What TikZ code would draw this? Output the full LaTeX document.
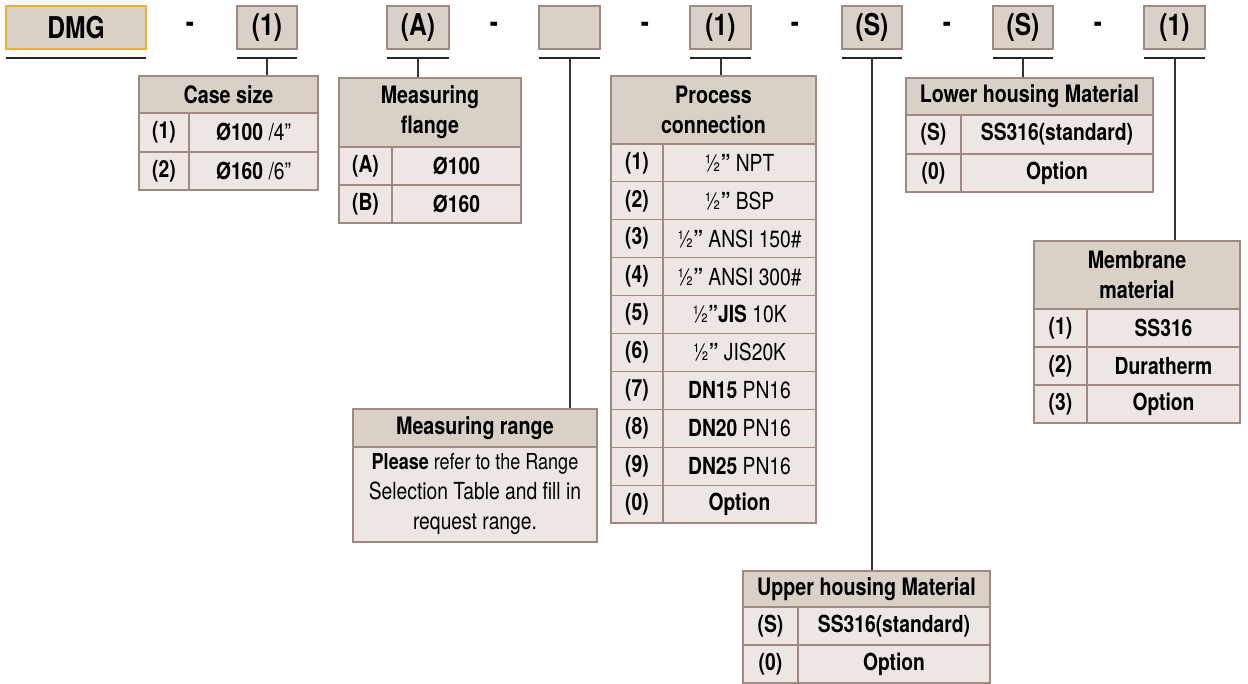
\documentclass[tikz,border=0pt]{standalone}
\usepackage{fontspec}
\setmainfont{TeX Gyre Heros}[FakeStretch=0.82]
\definecolor{topfill}{HTML}{D9D0C8}
\definecolor{topedge}{HTML}{9E8A82}
\definecolor{gold}{HTML}{E9B13A}
\definecolor{hfill}{HTML}{D9D0C8}
\definecolor{rfill}{HTML}{EDE6E3}
\definecolor{tedge}{HTML}{9E8A82}
\newcommand\cellnode[7]{\node[#1,minimum width={(#5-#3)*1pt},minimum height={(#6-#4)*1pt}] (#2) at ({(#3+#5)/2},{(#4+#6)/2}) {#7};}
\begin{document}
\begin{tikzpicture}[x=1pt,y=-1pt,
  topbox/.style={draw=topedge,fill=topfill,line width=1.2pt,inner sep=0pt,font=\fontsize{30}{30}\selectfont\bfseries},
  dmgbox/.style={topbox,draw=gold},
  sepmark/.style={inner sep=0pt,font=\fontsize{30}{30}\selectfont\bfseries},
  hd/.style={draw=tedge,fill=hfill,line width=1.2pt,inner sep=0pt,align=center,font=\fontsize{24}{30}\selectfont\bfseries},
  rw/.style={draw=tedge,fill=rfill,line width=1.2pt,inner sep=0pt,align=center,font=\fontsize{23.5}{30}\selectfont},
  lab/.style={rw,font=\fontsize{23.5}{30}\selectfont\bfseries},
  ul/.style={line width=1.4pt,draw=black!85},
  conn/.style={line width=1.3pt,draw=black!80}]
\useasboundingbox (0,0) rectangle (1248,684);

% top row
\cellnode{dmgbox}{b0}{6}{6}{146}{49}{DMG}
\cellnode{topbox}{b1}{237}{6}{297}{49}{(1)}
\cellnode{topbox}{b2}{387}{6}{449}{49}{(A)}
\cellnode{topbox}{b3}{539}{6}{600}{49}{}
\cellnode{topbox}{b4}{690}{6}{751}{49}{(1)}
\cellnode{topbox}{b5}{842}{6}{902}{49}{(S)}
\cellnode{topbox}{b6}{993}{6}{1053}{49}{(S)}
\cellnode{topbox}{b7}{1144}{6}{1205}{49}{(1)}
\foreach \x/\n in {190/d1,494/d2,645/d3,795/d4,947/d5,1098/d6}
  \node[sepmark] (\n) at (\x,27.5) {-};
\foreach \a/\b in {6/146,237/297,387/449,539/600,690/751,842/902,993/1053,1144/1205}
  \draw[ul] (\a,58) -- (\b,58);
\foreach \x/\n in {267/u1,418/u2,570/u3,721/u4,872/u5,1023/u6,1175/u7}
  \coordinate (\n) at (\x,58);

% Case size
\cellnode{hd}{cs}{139}{76}{318}{113}{Case size}
\cellnode{lab}{cs1a}{139}{113}{189}{152}{(1)}
\cellnode{rw}{cs1b}{189}{113}{318}{152}{\textbf{Ø100} /4”}
\cellnode{lab}{cs2a}{139}{152}{189}{190}{(2)}
\cellnode{rw}{cs2b}{189}{152}{318}{190}{\textbf{Ø160} /6”}

% Measuring flange
\cellnode{hd}{mf}{339}{78}{521}{147}{Measuring\\flange}
\cellnode{lab}{mf1a}{339}{147}{392}{185}{(A)}
\cellnode{lab}{mf1b}{392}{147}{521}{185}{Ø100}
\cellnode{lab}{mf2a}{339}{185}{392}{223}{(B)}
\cellnode{lab}{mf2b}{392}{185}{521}{223}{Ø160}

% Measuring range
\cellnode{hd}{mr}{353}{409}{597}{447}{Measuring range}
\cellnode{rw}{mrb}{353}{447}{597}{542}{\fontsize{22}{30}\selectfont\textbf{Please} refer to the Range\\Selection Table and fill in\\request range.}

% Process connection
\cellnode{hd}{pc}{611}{76}{816}{144}{Process\\connection}
\foreach \k/\a/\b in {0/(1)/{½\textbf{”} NPT},1/(2)/{½\textbf{”} BSP},2/(3)/{½\textbf{”} ANSI 150\#},3/(4)/{½\textbf{”} ANSI 300\#},4/(5)/{½\textbf{”JIS} 10K},5/(6)/{½\textbf{”} JIS20K},6/(7)/{\textbf{DN15} PN16},7/(8)/{\textbf{DN20} PN16},8/(9)/{\textbf{DN25} PN16},9/(0)/{\textbf{Option}}}{
  \pgfmathsetmacro\ya{144+37.9*\k}
  \pgfmathsetmacro\yb{144+37.9*(\k+1)}
  \cellnode{lab}{pc\k a}{611}{\ya}{663}{\yb}{\a}
  \cellnode{rw}{pc\k b}{663}{\ya}{816}{\yb}{\b}
}

% Lower housing
\cellnode{hd}{lh}{906}{78}{1153}{115}{Lower housing Material}
\cellnode{lab}{lh1a}{906}{115}{961}{154}{(S)}
\cellnode{lab}{lh1b}{961}{115}{1153}{154}{SS316(standard)}
\cellnode{lab}{lh2a}{906}{154}{961}{192}{(0)}
\cellnode{lab}{lh2b}{961}{154}{1153}{192}{Option}

% Membrane
\cellnode{hd}{mm}{1034}{241}{1240}{309}{Membrane\\material}
\cellnode{lab}{mm1a}{1034}{309}{1087}{347}{(1)}
\cellnode{lab}{mm1b}{1087}{309}{1240}{347}{SS316}
\cellnode{lab}{mm2a}{1034}{347}{1087}{385}{(2)}
\cellnode{lab}{mm2b}{1087}{347}{1240}{385}{Duratherm}
\cellnode{lab}{mm3a}{1034}{385}{1087}{423}{(3)}
\cellnode{lab}{mm3b}{1087}{385}{1240}{423}{Option}

% Upper housing
\cellnode{hd}{uh}{743}{571}{990}{607}{Upper housing Material}
\cellnode{lab}{uh1a}{743}{607}{798}{645}{(S)}
\cellnode{lab}{uh1b}{798}{607}{990}{645}{SS316(standard)}
\cellnode{lab}{uh2a}{743}{645}{798}{683}{(0)}
\cellnode{lab}{uh2b}{798}{645}{990}{683}{Option}

% connectors
\draw[conn] (u1) -- (u1 |- cs.north);
\draw[conn] (u2) -- (u2 |- mf.north);
\draw[conn] (u3) -- (u3 |- mr.north);
\draw[conn] (u4) -- (u4 |- pc.north);
\draw[conn] (u5) -- (u5 |- uh.north);
\draw[conn] (u6) -- (u6 |- lh.north);
\draw[conn] (u7) -- (u7 |- mm.north);
\end{tikzpicture}
\end{document}
